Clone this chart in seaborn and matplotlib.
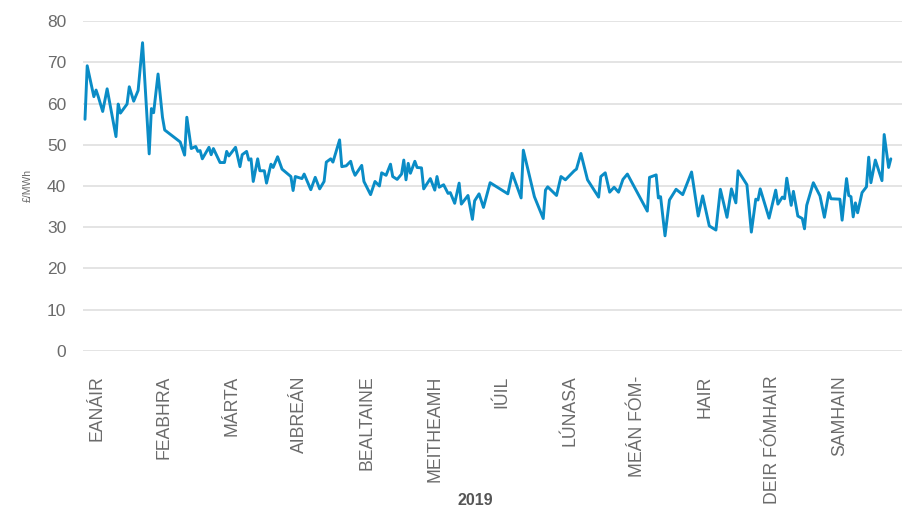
import numpy as np
import pandas as pd
import matplotlib
matplotlib.use("Agg")
import matplotlib.pyplot as plt
import seaborn as sns

# day of year (2019) and daily price
days = [1, 2, 5, 6, 7, 9, 11, 15, 16, 17, 20, 21, 23, 25, 27, 30, 31, 32, 34, 36,
        37, 44, 46, 47, 49, 51, 52, 53, 54, 57, 58, 59, 62, 64, 65, 66, 69, 71, 72, 74,
        75, 76, 77, 79, 80, 82, 83, 85, 86, 88, 90, 94, 95, 96, 99, 100, 103, 105, 107, 109,
        110, 112, 113, 116, 117, 119, 121, 122, 123, 126, 127, 129, 130, 132, 134, 135, 137, 139, 140, 142,
        144, 145, 146, 147, 148, 150, 151, 153, 154, 157, 159, 160, 161, 163, 165, 166, 168, 170, 171, 174,
        176, 177, 179, 181, 184, 192, 194, 198, 199, 204, 208, 209, 210, 214, 216, 218, 222, 223, 225, 228,
        233, 234, 236, 238, 240, 242, 244, 246, 255, 256, 259, 260, 261, 263, 265, 268, 271, 275, 278, 280,
        283, 286, 288, 291, 293, 295, 296, 300, 302, 304, 305, 306, 310, 313, 314, 316, 317, 318, 320, 321,
        323, 325, 326, 327, 330, 333, 335, 337, 338, 342, 343, 345, 346, 347, 348, 349, 350, 352, 354, 355,
        356, 358, 361, 362, 364, 365]
prices = [56.2, 69.2, 61.7, 63.3, 61.7, 58.1, 63.6, 52.0, 59.9, 57.7, 59.9, 64.1, 60.6, 63.2, 74.8, 47.8, 58.8, 57.8, 67.2, 56.7,
          53.6, 50.7, 47.5, 56.7, 49.1, 49.6, 48.4, 48.6, 46.6, 49.4, 47.6, 49.1, 45.7, 45.7, 48.4, 47.3, 49.4, 44.7, 47.6, 48.4,
          46.3, 46.6, 41.1, 46.6, 43.7, 43.7, 40.7, 45.3, 44.5, 47.1, 44.1, 42.3, 38.9, 42.3, 41.8, 42.9, 39.1, 42.1, 39.3, 41.1,
          45.8, 46.6, 45.8, 51.2, 44.7, 44.9, 46.0, 43.9, 42.6, 45.0, 41.1, 39.0, 37.9, 41.1, 40.0, 43.2, 42.6, 45.3, 42.3, 41.6,
          42.9, 46.3, 41.5, 45.5, 43.1, 46.0, 44.5, 44.4, 39.3, 41.8, 39.0, 42.3, 39.7, 40.3, 38.2, 38.4, 35.8, 40.7, 35.6, 37.7,
          31.9, 36.4, 38.1, 34.8, 40.8, 38.1, 43.1, 37.1, 48.7, 37.4, 32.1, 39.0, 39.8, 37.7, 42.3, 41.5, 43.7, 44.1, 47.9, 41.5,
          37.3, 42.3, 43.2, 38.5, 39.7, 38.5, 41.6, 42.9, 33.9, 42.1, 42.7, 37.1, 37.4, 27.9, 36.6, 39.2, 37.9, 43.4, 32.7, 37.6,
          30.3, 29.3, 39.2, 32.4, 39.3, 35.9, 43.7, 40.3, 28.8, 36.8, 36.6, 39.3, 32.2, 39.0, 35.6, 37.3, 36.9, 41.9, 35.3, 38.7,
          32.7, 32.1, 29.6, 35.3, 40.8, 37.6, 32.4, 38.4, 36.9, 36.8, 31.7, 41.8, 37.7, 37.4, 32.5, 35.9, 33.5, 38.4, 39.8, 47.0,
          40.8, 46.3, 41.3, 52.5, 44.5, 46.6]

month_labels = ["EANÁIR", "FEABHRA", "MÁRTA", "AIBREÁN", "BEALTAINE", "MEITHEAMH",
                "IÚIL", "LÚNASA", "MEÁN FÓM-", "HAIR", "DEIR FÓMHAIR", "SAMHAIN"]
y_ticks = [0, 10, 20, 30, 40, 50, 60, 70, 80]

df = pd.DataFrame({"day": days, "price": prices})

sns.set_theme(style="whitegrid")
plt.rcParams["font.family"] = ["Liberation Sans", "DejaVu Sans"]

fig = plt.figure(figsize=(9.03, 5.09), dpi=100)
ax = fig.add_axes([83 / 903, 1 - 350.7 / 509, 820 / 903, 329.4 / 509])

sns.lineplot(data=df, x="day", y="price", ax=ax, color="#0a8cc6", linewidth=2.1)

ax.set_xlim(0.1, 370.5)
ax.set_ylim(0, 80)
ax.set_yticks(y_ticks)
ax.set_xticks(6.4 + 30.5 * np.arange(len(month_labels)))
ax.set_xticklabels(month_labels, rotation=90, va="top", ha="center")
ax.xaxis.grid(False)
ax.yaxis.grid(True, color="#dcdcdc", linewidth=1.1)
for s in ax.spines.values():
    s.set_visible(False)
ax.tick_params(axis="y", length=0, pad=12, labelsize=12.5, labelcolor="#6b6b6b")
ax.tick_params(axis="x", length=0, pad=18, labelsize=12.7, labelcolor="#6b6b6b")

ax.set_ylabel("£/MWh", fontsize=7.5, color="#6b6b6b")
ax.yaxis.set_label_coords(-0.061, 0.5)
ax.set_xlabel("2019", fontsize=11.5, fontweight="bold", color="#555555")
ax.xaxis.set_label_coords(0.478, -0.455)
ax.xaxis.label.set_va("center")

fig.savefig("out.png", dpi=100)
